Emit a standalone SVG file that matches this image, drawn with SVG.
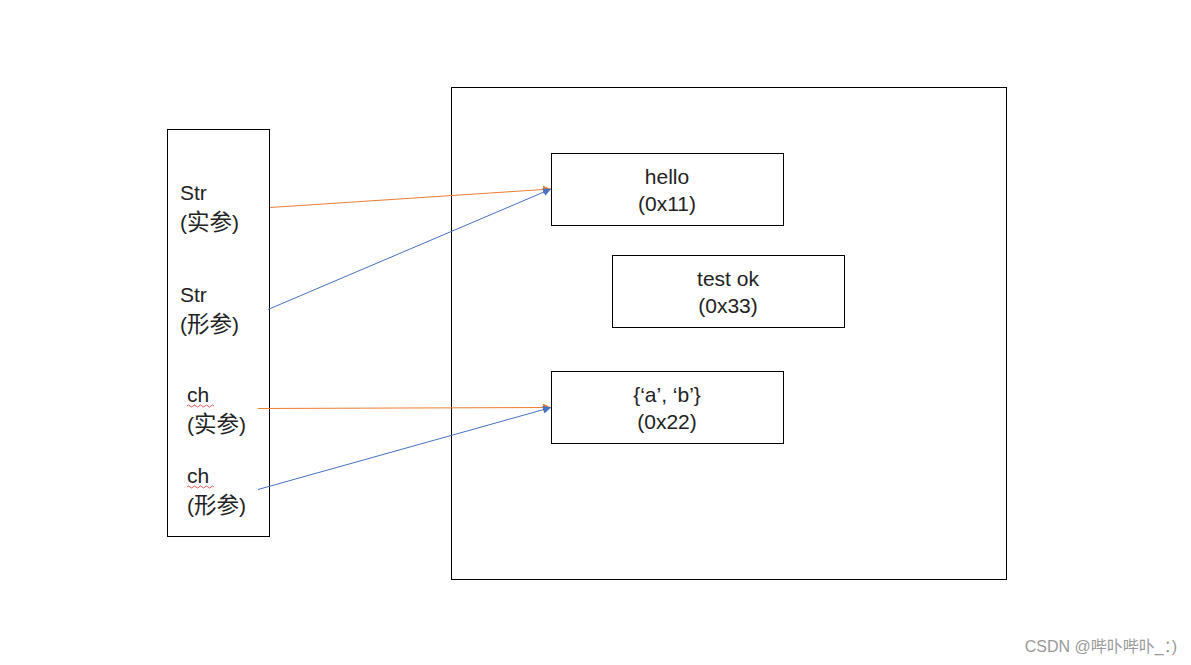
<svg xmlns="http://www.w3.org/2000/svg" width="1191" height="665" viewBox="0 0 1191 665">
<style>
.box{fill:#fff;stroke:#000;stroke-width:1}
.t{font-family:"Liberation Sans","Noto Sans CJK SC",sans-serif;font-size:21px;fill:#222}
.cj{font-size:22.5px}
.c{text-anchor:middle}
.wm{font-family:"Liberation Sans","Noto Sans CJK SC",sans-serif;font-size:16px;fill:#999;text-anchor:end}
.or{stroke:#ED7D31;stroke-width:1;fill:none}
.bl{stroke:#4472C4;stroke-width:1;fill:none}
.sq{stroke:#e03030;stroke-width:0.8;fill:none}
</style>
<defs>
<marker id="ao" viewBox="0 0 10 10" refX="10" refY="5" markerWidth="8" markerHeight="8" markerUnits="userSpaceOnUse" orient="auto"><path d="M0,0 L10,5 L0,10 z" fill="#ED7D31"/></marker>
<marker id="ab" viewBox="0 0 10 10" refX="10" refY="5" markerWidth="8" markerHeight="8" markerUnits="userSpaceOnUse" orient="auto"><path d="M0,0 L10,5 L0,10 z" fill="#4472C4"/></marker>
</defs>
<rect width="1191" height="665" fill="#fff"/>
<g id="stack">
<rect class="box" x="167.5" y="129.5" width="102" height="407"/>
<text class="t" x="180" y="200">Str</text>
<text class="t" x="180" y="230">(<tspan class="cj">实参</tspan>)</text>
<text class="t" x="180" y="302">Str</text>
<text class="t" x="180" y="332">(<tspan class="cj">形参</tspan>)</text>
<text class="t" x="187" y="402">ch</text>
<path class="sq" d="M187,406 q1.5,-2 3,0 t3,0 t3,0 t3,0 t3,0 t3,0 t3,0 t3,0 t3,0"/>
<text class="t" x="187" y="432">(<tspan class="cj">实参</tspan>)</text>
<text class="t" x="187" y="483">ch</text>
<path class="sq" d="M187,487 q1.5,-2 3,0 t3,0 t3,0 t3,0 t3,0 t3,0 t3,0 t3,0 t3,0"/>
<text class="t" x="187" y="513">(<tspan class="cj">形参</tspan>)</text>
</g>
<g id="heap">
<rect class="box" x="451.5" y="87.5" width="555" height="492"/>
</g>
<g id="hello">
<rect class="box" x="551.5" y="153.5" width="232" height="72"/>
<text class="t c" x="667" y="184">hello</text>
<text class="t c" x="667" y="211">(0x11)</text>
</g>
<g id="testok">
<rect class="box" x="612.5" y="255.5" width="232" height="72"/>
<text class="t c" x="728" y="286">test ok</text>
<text class="t c" x="728" y="313">(0x33)</text>
</g>
<g id="ab">
<rect class="box" x="551.5" y="371.5" width="232" height="72"/>
<text class="t c" x="667" y="402">{‘a’, ‘b’}</text>
<text class="t c" x="667" y="429">(0x22)</text>
</g>
<g id="connectors">
<line class="or" x1="270" y1="207.5" x2="551" y2="189" marker-end="url(#ao)"/>
<line class="bl" x1="268" y1="309.5" x2="551" y2="189" marker-end="url(#ab)"/>
<line class="or" x1="258" y1="408.5" x2="551" y2="407.5" marker-end="url(#ao)"/>
<line class="bl" x1="258" y1="489.5" x2="551" y2="407.5" marker-end="url(#ab)"/>
</g>
<text class="wm" x="1177" y="652">CSDN @哔卟哔卟_：)</text>
</svg>
